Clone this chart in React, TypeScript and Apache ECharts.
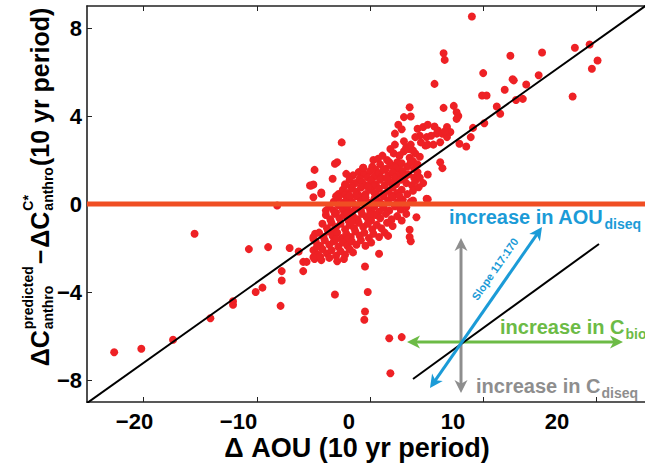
import React, { useEffect, useRef } from 'react';
import * as echarts from 'echarts';

const FONT = '"Liberation Sans", Arial, Helvetica, sans-serif';

const xTicks = [-20, -10, 0, 10, 20];
const yTicks = [-8, -4, 0, 4, 8];

// isolated points
const outlierPoints: number[][] = [
  [-22.6, -6.74], [-20.2, -6.58], [-17.4, -6.17], [-15.5, -1.35], [-14.1, -5.19],
  [-12.1, -4.42], [-12.1, -4.58], [-10.7, -2.05], [-10.1, -4.0], [-9.5, -3.8],
  [-9.0, -1.96], [-7.9, -4.63], [-7.8, -3.05], [-7.8, -3.48], [-7.1, -2.0],
  [-6.3, -2.16], [-5.9, -2.63], [-5.6, -2.63], [-5.9, -3.05], [-5.0, -2.42],
  [-5.0, -1.58], [-4.85, -1.35], [-8.2, -0.07], [-5.3, 0.84], [-4.3, 0.46],
  [-3.9, -0.3], [-3.1, -4.11], [-0.44, -2.84], [-0.2, -4.0], [-0.44, -4.89],
  [-0.5, -5.26], [0.8, -2.26], [1.7, -6.1], [1.8, -7.69], [2.8, -6.05],
  [3.5, -1.17], [3.6, -1.69], [3.5, -1.5], [3.2, -0.45], [4.1, -0.6], [5.0, 0.24], [3.8, 0.16],
  [9.0, 8.52], [6.5, 6.85], [6.6, 6.55], [12.4, 6.74], [15.2, 6.89], [18.1, 7.1],
  [19.4, 7.25], [20.1, 6.52], [19.6, 6.15], [17.9, 4.89], [10.0, 5.95], [12.6, 5.67],
  [12.7, 5.62], [13.8, 5.43], [14.9, 5.85], [11.9, 5.19], [12.9, 4.73], [13.5, 4.78],
  [9.9, 4.93], [10.3, 4.93], [5.7, 5.46], [11.2, 4.43], [11.5, 4.1], [10.1, 3.67],
  [9.1, 3.46], [8.9, 3.04], [8.5, 2.61], [7.9, 2.74], [7.8, 4.0], [7.4, 4.46],
  [6.5, 4.37], [3.5, 4.4], [3.0, 3.95], [3.6, 3.98], [2.5, 3.6], [2.2, 3.2], [2.8, 3.4],
  [-2.5, 2.8], [-4.9, 1.55], [-3.1, 1.83], [-2.9, 1.9], [-2.1, 1.37], [-3.3, 1.15], [-5.0, 0.89],
  [-4.3, 0.52], [-2.2, 0.84], [-0.6, 1.65], [6.2, 1.9], [6.4, 1.63], [5.1, 1.34],
  [4.4, 1.19], [4.7, 0.95], [4.3, 0.76], [5.1, 0.22], [7.65, 4.17], [7.65, 3.87],
  [-5.0, -1.5], [-4.7, -1.96], [-4.4, -2.4], [-5.0, 0.31], [-5.2, 0.84],
];

// upper arm of the cloud
const armPoints: number[][] = [
  [4.2, 3.42], [4.7, 3.5], [5.1, 3.6], [5.7, 3.52], [6.0, 3.34], [6.8, 3.5], [7.1, 3.27],
  [4.4, 3.1], [5.0, 3.04], [5.9, 3.2], [6.4, 3.19], [6.8, 3.04], [6.2, 2.81], [5.6, 2.7],
  [5.1, 2.7], [4.9, 2.66], [4.0, 3.04], [3.2, 2.58], [3.4, 2.5], [3.8, 2.43], [2.6, 2.2],
  [1.8, 2.5], [2.2, 2.7], [3.0, 2.85], [3.6, 2.7], [4.5, 2.8], [5.4, 3.1], [6.6, 3.3],
];

// dense core of the cloud
const corePoints: number[][] = [
  [0.3, 2.0], [0.7, 2.05], [1.5, 2.0], [2.1, 2.3], [2.6, 2.2], [3.0, 2.4], [3.5, 2.1], [4.0, 2.3],
  [1.1, 2.2], [3.8, 1.95], [2.4, 1.9], [4.4, 2.15],
  [-0.6, 1.65], [0.2, 1.7], [0.9, 1.8], [1.4, 1.6], [1.9, 1.75], [2.3, 1.65], [2.8, 1.85],
  [3.3, 1.7], [3.9, 1.6], [4.2, 1.8], [0.5, 1.55], [1.7, 1.9], [2.6, 1.55], [3.6, 1.9],
  [-1.5, 1.3], [-1.0, 1.45], [-0.5, 1.35], [0.0, 1.5], [0.4, 1.25], [0.8, 1.4], [1.2, 1.55],
  [1.6, 1.3], [2.0, 1.45], [2.5, 1.3], [2.9, 1.5], [3.4, 1.35], [3.9, 1.2], [4.2, 1.45],
  [-0.2, 1.2], [1.0, 1.2], [2.2, 1.2], [3.1, 1.25],
  [-2.2, 0.9], [-1.8, 1.1], [-1.3, 0.95], [-0.9, 1.15], [-0.4, 0.85], [0.1, 1.05], [0.5, 0.9],
  [0.9, 1.1], [1.3, 0.85], [1.8, 1.0], [2.3, 0.9], [2.7, 1.1], [3.2, 0.95], [3.7, 0.85],
  [4.0, 1.05], [-1.6, 0.8], [-0.7, 1.0], [0.3, 0.8], [1.5, 1.15], [2.0, 0.8],
  [-2.8, 0.45], [-2.4, 0.65], [-2.0, 0.5], [-1.6, 0.7], [-1.2, 0.55], [-0.8, 0.75], [-0.4, 0.45],
  [0.0, 0.65], [0.4, 0.5], [0.8, 0.7], [1.2, 0.45], [1.6, 0.6], [2.0, 0.75], [2.4, 0.5],
  [2.8, 0.65], [3.3, 0.45], [3.8, 0.6], [-2.2, 0.4], [-1.0, 0.4], [0.6, 0.4], [1.9, 0.4], [-0.2, 0.78],
  [-3.2, 0.1], [-2.8, 0.3], [-2.4, 0.05], [-2.0, 0.25], [-1.6, 0.1], [-1.2, 0.35], [-0.8, 0.15],
  [-0.4, 0.3], [0.0, 0.05], [0.4, 0.25], [0.8, 0.1], [1.2, 0.35], [1.6, 0.15], [2.0, 0.3],
  [2.4, 0.05], [2.9, 0.2], [3.6, 0.1], [-3.0, 0.35], [-1.8, 0.38], [-0.2, 0.0], [1.0, 0.0], [2.6, 0.35],
  [-3.6, -0.1], [-3.2, -0.3], [-2.8, -0.05], [-2.4, -0.25], [-2.0, -0.1], [-1.6, -0.35],
  [-1.2, -0.15], [-0.8, -0.3], [-0.4, -0.05], [0.0, -0.25], [0.4, -0.1], [0.8, -0.35],
  [1.2, -0.15], [1.7, -0.3], [2.2, -0.1], [2.7, -0.25], [3.2, -0.15], [-3.0, -0.4],
  [-1.4, -0.02], [0.2, -0.4],
  [-3.9, -0.5], [-3.5, -0.7], [-3.1, -0.45], [-2.7, -0.65], [-2.3, -0.5], [-1.9, -0.75],
  [-1.5, -0.55], [-1.1, -0.7], [-0.7, -0.45], [-0.3, -0.6], [0.1, -0.75], [0.5, -0.5],
  [0.9, -0.65], [1.4, -0.45], [1.9, -0.7], [2.4, -0.55], [2.8, -0.75], [-2.0, -0.42], [0.0, -0.45],
  [-4.2, -0.9], [-3.8, -1.1], [-3.4, -0.85], [-3.0, -1.05], [-2.6, -0.9], [-2.2, -1.15],
  [-1.8, -0.95], [-1.4, -1.1], [-1.0, -0.85], [-0.6, -1.05], [-0.2, -0.9], [0.2, -1.15],
  [0.6, -0.95], [1.0, -1.1], [1.5, -0.85], [2.0, -1.0], [-3.2, -1.2], [-1.6, -0.82],
  [-4.5, -1.3], [-4.1, -1.5], [-3.7, -1.25], [-3.3, -1.45], [-2.9, -1.3], [-2.5, -1.55],
  [-2.1, -1.35], [-1.7, -1.5], [-1.3, -1.25], [-0.9, -1.45], [-0.5, -1.3], [-0.1, -1.55],
  [0.3, -1.35], [0.8, -1.5], [1.3, -1.3], [1.6, -1.45], [-2.0, -1.6],
  [-4.8, -1.7], [-4.4, -1.9], [-4.0, -1.65], [-3.6, -1.85], [-3.2, -1.7], [-2.8, -1.95],
  [-2.4, -1.75], [-2.0, -1.9], [-1.6, -1.7], [-1.2, -1.85], [-0.8, -1.65], [-0.4, -1.9],
  [0.1, -1.75], [-3.0, -1.6],
  [-5.0, -2.1], [-4.6, -2.3], [-4.2, -2.05], [-3.8, -2.25], [-3.4, -2.1], [-3.0, -2.35],
  [-2.6, -2.15], [-2.2, -2.3], [-1.8, -2.05], [-1.5, -2.2],
  [-4.9, -2.5], [-4.3, -2.55], [-3.6, -2.45], [-2.9, -2.6], [-2.3, -2.5],
];

const fitX = [-25, 25];
const fitY = [-9.05, 9.25];
const zeroLine = 0;

const fmt = (v: number) => (v < 0 ? '\u2212' + Math.abs(v) : String(v));

let measureCtx: CanvasRenderingContext2D | null = null;
function tw(text: string, size: number): number {
  if (!measureCtx) measureCtx = document.createElement('canvas').getContext('2d');
  measureCtx!.font = `bold ${size}px ${FONT}`;
  return measureCtx!.measureText(text).width;
}

function txt(text: string, x: number, baseline: number, size: number, color: string, extra: any = {}) {
  return {
    type: 'text',
    x,
    y: baseline - 0.31 * size,
    style: {
      text,
      fill: color,
      fontSize: size,
      fontWeight: 'bold',
      fontFamily: FONT,
      align: 'left',
      verticalAlign: 'middle',
      textAlign: 'left',
      textVerticalAlign: 'middle',
    },
    ...extra,
  };
}

function arrow(x1: number, y1: number, x2: number, y2: number, color: string, w: number) {
  const dx = x2 - x1, dy = y2 - y1;
  const L = Math.hypot(dx, dy);
  const ux = dx / L, uy = dy / L;
  const hl = 13, hw = 6.5;
  const head = (bx: number, by: number, sx: number, sy: number) => ({
    type: 'polygon',
    shape: {
      points: [
        [bx, by],
        [bx - sx * hl - sy * hw, by - sy * hl + sx * hw],
        [bx - sx * hl * 0.72, by - sy * hl * 0.72],
        [bx - sx * hl + sy * hw, by - sy * hl - sx * hw],
      ],
    },
    style: { fill: color },
  });
  return [
    {
      type: 'line',
      shape: { x1: x1 + ux * 8, y1: y1 + uy * 8, x2: x2 - ux * 8, y2: y2 - uy * 8 },
      style: { stroke: color, lineWidth: w },
    },
    head(x2, y2, ux, uy),
    head(x1, y1, -ux, -uy),
  ];
}

function yTitle() {
  const F = 25, f = 14;
  const children: any[] = [];
  let lx = 0;
  const supB = -16, subB = 4;
  children.push(txt('ΔC', lx, 0, F, '#000'));
  lx += tw('ΔC', F) + 1;
  children.push(txt('predicted', lx, supB, f, '#000'));
  children.push(txt('anthro', lx, subB, f, '#000'));
  lx += Math.max(tw('predicted', f), tw('anthro', f)) + 2;
  children.push(txt('\u2212', lx, 0, F, '#000'));
  lx += tw('\u2212', F) + 2;
  children.push(txt('ΔC', lx, 0, F, '#000'));
  lx += tw('ΔC', F) + 1;
  children.push(txt('C*', lx, supB, f, '#000'));
  children.push(txt('anthro', lx, subB, f, '#000'));
  lx += Math.max(tw('C*', f), tw('anthro', f)) + 1;
  children.push(txt('(10 yr period)', lx, 0, F, '#000'));
  lx += tw('(10 yr period)', F);
  return {
    type: 'group',
    x: 48,
    y: 187 + lx / 2,
    rotation: Math.PI / 2,
    children,
  };
}

function inset() {
  const blue = '#1B9BD7', grey = '#8E8E8E', green = '#6CBB46';
  const els: any[] = [];
  els.push(...arrow(461, 393, 461, 238, grey, 3));
  els.push(...arrow(407, 342, 623, 342, green, 3));
  els.push({ type: 'line', shape: { x1: 413, y1: 379, x2: 599, y2: 244 }, style: { stroke: '#000', lineWidth: 2 } });
  els.push(...arrow(430, 388, 542, 227, blue, 3));
  const s = 20, ss = 14;
  els.push(txt('increase in AOU', 449, 223, s, blue));
  els.push(txt('diseq', 449 + tw('increase in AOU', s) + 1, 228, ss, blue));
  els.push(txt('increase in C', 500, 333, s, green));
  els.push(txt('bio', 500 + tw('increase in C', s) + 1, 338, ss, green));
  els.push(txt('increase in C', 476, 392, s, grey));
  els.push(txt('diseq', 476 + tw('increase in C', s) + 1, 397, ss, grey));
  els.push({
    type: 'text',
    x: 495,
    y: 269,
    rotation: Math.atan2(161, 112),
    style: {
      text: 'Slope 117:170', fill: blue, fontSize: 11, fontWeight: 'bold', fontFamily: FONT,
      align: 'center', verticalAlign: 'middle', textAlign: 'center', textVerticalAlign: 'middle',
    },
  });
  return els;
}

export default function App() {
  const ref = useRef<HTMLDivElement>(null);
  useEffect(() => {
    const chart = echarts.init(ref.current!, null, { renderer: 'svg' });
    const axisLine = { show: true, onZero: false, lineStyle: { color: '#222', width: 1.6 } };
    const tick = { show: true, inside: true, length: 5, customValues: xTicks, lineStyle: { color: '#222', width: 1 } };
    const ytick = { show: true, inside: true, length: 5, customValues: yTicks, lineStyle: { color: '#222', width: 1 } };
    const labelFont = { fontSize: 22, fontWeight: 'bold', fontFamily: FONT, color: '#000' };
    chart.setOption({
      animation: false,
      backgroundColor: '#fff',
      grid: { left: 87, top: 6, right: 7, bottom: 70, containLabel: false },
      xAxis: [
        { type: 'value', min: -25, max: 25, position: 'bottom', axisLine, axisTick: tick, axisLabel: { show: false }, splitLine: { show: false } },
        { type: 'value', min: -25, max: 25, position: 'top', axisLine, axisTick: tick, axisLabel: { show: false }, splitLine: { show: false } },
        {
          type: 'value', min: -25.19, max: 29.23, position: 'bottom',
          axisLine: { show: false, onZero: false }, axisTick: { show: false }, splitLine: { show: false },
          axisLabel: {
            show: true, customValues: xTicks, margin: 8,
            formatter: (v: number) => (v < 0 ? `{n|${fmt(v)}}` : `{p|${fmt(v)}}`),
            rich: { n: { ...labelFont, padding: [0, 13, 0, 0] }, p: { ...labelFont } },
            ...labelFont,
          },
        },
      ],
      yAxis: [
        {
          type: 'value', min: -9, max: 9, position: 'left', axisLine, axisTick: ytick, splitLine: { show: false },
          axisLabel: { show: true, customValues: yTicks, margin: 5, formatter: fmt, ...labelFont },
        },
        { type: 'value', min: -9, max: 9, position: 'right', axisLine, axisTick: ytick, axisLabel: { show: false }, splitLine: { show: false } },
      ],
      series: [
        {
          type: 'scatter', xAxisIndex: 0, yAxisIndex: 0, symbolSize: 8, z: 2,
          itemStyle: { color: '#EE2125', opacity: 1 },
          data: [...corePoints, ...armPoints, ...outlierPoints],
        },
        {
          type: 'line', xAxisIndex: 0, yAxisIndex: 0, z: 3, symbol: 'none', silent: true,
          lineStyle: { color: '#F04E23', width: 5 },
          data: [[-25, zeroLine], [25, zeroLine]],
        },
        {
          type: 'line', xAxisIndex: 0, yAxisIndex: 0, z: 4, symbol: 'none', silent: true, clip: true,
          lineStyle: { color: '#000', width: 2 },
          data: fitX.map((x, i) => [x, fitY[i]]),
        },
      ],
      graphic: [
        yTitle(),
        {
          type: 'text', x: 357, y: 448,
          style: {
            text: 'Δ AOU (10 yr period)', fill: '#000', fontSize: 27, fontWeight: 'bold', fontFamily: FONT,
            align: 'center', verticalAlign: 'middle', textAlign: 'center', textVerticalAlign: 'middle',
          },
        },
        ...inset(),
      ],
    });
    return () => chart.dispose();
  }, []);
  return (
    <div style={{ position: 'fixed', left: 0, top: 0, width: 645, height: 472, overflow: 'hidden', background: '#fff' }}>
      <div ref={ref} style={{ width: 660, height: 472 }} />
    </div>
  );
}
